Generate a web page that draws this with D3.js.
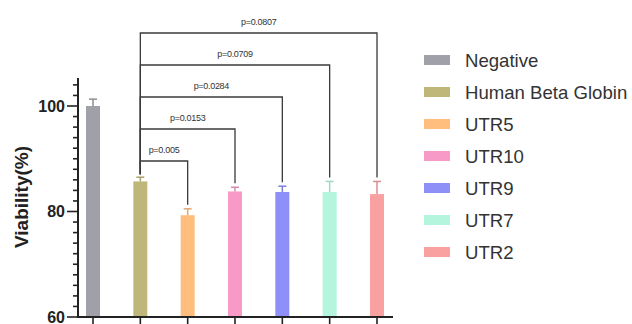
<!DOCTYPE html>
<html>
<head>
<meta charset="utf-8">
<script src="https://cdn.jsdelivr.net/npm/d3@7"></script>
<style>
  html, body { margin: 0; padding: 0; background: #fff; }
  svg { display: block; }
</style>
</head>
<body>
<svg id="chart" width="632" height="324"></svg>
<script>
// Groups, mean viability and error (SD)
const categories = ["Negative", "Human Beta Globin", "UTR5", "UTR10", "UTR9", "UTR7", "UTR2"];
const viability = [100, 85.7, 79.3, 83.8, 83.7, 83.7, 83.3];
const errors = [1.3, 0.8, 1.2, 0.8, 1.1, 2.0, 2.4];
const colors = ["#a0a0a8", "#bfb67a", "#ffbe7d", "#f89ac8", "#8f8ff8", "#b3f5dd", "#f9a0a0"];
const yTicks = [60, 80, 100];

// Pairwise comparisons against Human Beta Globin
const compareFrom = ["Human Beta Globin", "Human Beta Globin", "Human Beta Globin", "Human Beta Globin", "Human Beta Globin"];
const compareTo = ["UTR5", "UTR10", "UTR9", "UTR7", "UTR2"];
const pValues = ["p=0.005", "p=0.0153", "p=0.0284", "p=0.0709", "p=0.0807"];

const svg = d3.select("#chart");
const font = "'Liberation Sans', Arial, Helvetica, sans-serif";

const x = d3.scalePoint().domain(categories).range([93, 377]);
const y = d3.scaleLinear().domain([60, 100]).range([317, 106]);
const barW = 14;
const axisColor = "#222";

// Bars
svg.append("g").selectAll("rect")
  .data(categories)
  .join("rect")
  .attr("x", d => x(d) - barW / 2)
  .attr("y", (d, i) => y(viability[i]))
  .attr("width", barW)
  .attr("height", (d, i) => y(60) - y(viability[i]))
  .attr("fill", (d, i) => colors[i]);

// Error bars (upper only)
const eb = svg.append("g").selectAll("g")
  .data(categories)
  .join("g")
  .attr("stroke", (d, i) => d3.color(colors[i]).darker(0.35))
  .attr("stroke-width", 1.5);
eb.append("line")
  .attr("x1", d => x(d)).attr("x2", d => x(d))
  .attr("y1", (d, i) => y(viability[i]))
  .attr("y2", (d, i) => y(viability[i] + errors[i]));
eb.append("line")
  .attr("x1", d => x(d) - 4).attr("x2", d => x(d) + 4)
  .attr("y1", (d, i) => y(viability[i] + errors[i]))
  .attr("y2", (d, i) => y(viability[i] + errors[i]));

// Y axis with minor ticks every 2 units
const yAxisG = svg.append("g").attr("transform", "translate(78,0)");
yAxisG.append("line")
  .attr("x1", 0).attr("x2", 0)
  .attr("y1", y(60) + 1).attr("y2", y(105.3))
  .attr("stroke", axisColor).attr("stroke-width", 2);
const minor = d3.range(60, 105, 2);
yAxisG.selectAll("line.minor")
  .data(minor)
  .join("line")
  .attr("class", "minor")
  .attr("x1", d => yTicks.includes(d) ? -11 : -5)
  .attr("x2", 0)
  .attr("y1", d => y(d)).attr("y2", d => y(d))
  .attr("stroke", axisColor).attr("stroke-width", 1.6);
yAxisG.selectAll("text")
  .data(yTicks)
  .join("text")
  .attr("x", -13)
  .attr("y", d => y(d))
  .attr("dy", "0.36em")
  .attr("text-anchor", "end")
  .attr("font-family", font)
  .attr("font-weight", "bold")
  .attr("font-size", 16)
  .attr("fill", "#222")
  .text(d => d);

// Y axis title
svg.append("text")
  .attr("transform", "translate(21,197) rotate(-90)")
  .attr("text-anchor", "middle")
  .attr("dy", "0.35em")
  .attr("font-family", font)
  .attr("font-weight", "bold")
  .attr("font-size", 19)
  .attr("fill", "#222")
  .text("Viability(%)");

// X axis line and ticks
const xAxisG = svg.append("g");
xAxisG.append("line")
  .attr("x1", 77).attr("x2", 393)
  .attr("y1", y(60)).attr("y2", y(60))
  .attr("stroke", axisColor).attr("stroke-width", 2);
xAxisG.selectAll("line.tick")
  .data(categories)
  .join("line")
  .attr("class", "tick")
  .attr("x1", d => x(d)).attr("x2", d => x(d))
  .attr("y1", y(60)).attr("y2", y(60) + 10)
  .attr("stroke", axisColor).attr("stroke-width", 1.6);

// Significance brackets
const bracketG = svg.append("g");
compareTo.forEach((to, k) => {
  const from = compareFrom[k];
  const iFrom = categories.indexOf(from);
  const iTo = categories.indexOf(to);
  const by = 161 - k * 32;
  const x1 = x(from), x2 = x(to);
  const yFromEnd = y(viability[iFrom] + errors[iFrom]) - 3;
  const yToEnd = y(viability[iTo] + errors[iTo]) - 4;
  bracketG.append("path")
    .attr("d", `M${x1},${yFromEnd}V${by}H${x2}V${yToEnd}`)
    .attr("fill", "none")
    .attr("stroke", "#3a3a3a")
    .attr("stroke-width", 1.3);
  bracketG.append("text")
    .attr("x", (x1 + x2) / 2)
    .attr("y", by - 8)
    .attr("text-anchor", "middle")
    .attr("font-family", font)
    .attr("font-size", 9)
    .attr("letter-spacing", "-0.3px")
    .attr("fill", "#333")
    .text(pValues[k]);
});

// Legend
const legend = svg.append("g").selectAll("g")
  .data(categories)
  .join("g")
  .attr("transform", (d, i) => `translate(424,${60 + i * 32})`);
legend.append("rect")
  .attr("x", 0).attr("y", -5)
  .attr("width", 26).attr("height", 10)
  .attr("fill", (d, i) => colors[i]);
legend.append("text")
  .attr("x", 41)
  .attr("y", 0)
  .attr("dy", "0.36em")
  .attr("font-family", font)
  .attr("font-size", 18.6)
  .attr("fill", "#333")
  .text(d => d);
</script>
</body>
</html>
